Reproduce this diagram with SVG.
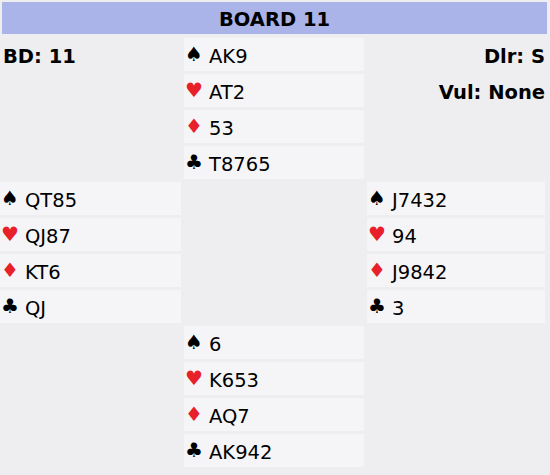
<svg xmlns="http://www.w3.org/2000/svg" width="550" height="475" viewBox="0 0 550 475">
<style>
.bg{fill:#eeedef}
.hdr{fill:#aab4e8}
.cell{fill:#f5f5f7}
.t{font-family:"DejaVu Sans",Verdana,sans-serif;font-size:19.5px;fill:#000}
.b{font-weight:bold}
.s{font-family:"DejaVu Sans",sans-serif;font-size:20px;fill:#000}
.r{fill:#e8202a}
</style>
<rect class="bg" x="0" y="0" width="550" height="475"/>
<g id="header">
<rect class="hdr" x="2" y="2" width="545" height="32"/>
<text class="t b" x="274.5" y="26" text-anchor="middle">BOARD 11</text>
</g>
<g id="info">
<text class="t b" x="3" y="62.5">BD: 11</text>
<text class="t b" x="545" y="62.5" text-anchor="end">Dlr: S</text>
<text class="t b" x="545" y="98.5" text-anchor="end">Vul: None</text>
</g>
<g id="north">
<rect class="cell" x="184" y="38" width="180" height="33"/>
<rect class="cell" x="184" y="74" width="180" height="33"/>
<rect class="cell" x="184" y="110" width="180" height="33"/>
<rect class="cell" x="184" y="146" width="180" height="33"/>
<text class="s" x="185" y="61">♠</text><text class="t" x="209" y="62.5">AK9</text>
<text class="s r" x="185" y="97">♥</text><text class="t" x="209" y="98.5">AT2</text>
<text class="s r" x="185" y="133">♦</text><text class="t" x="209" y="134.5">53</text>
<text class="s" x="185" y="169">♣</text><text class="t" x="209" y="170.5">T8765</text>
</g>
<g id="west">
<rect class="cell" x="0" y="182" width="181" height="33"/>
<rect class="cell" x="0" y="218" width="181" height="33"/>
<rect class="cell" x="0" y="254" width="181" height="33"/>
<rect class="cell" x="0" y="290" width="181" height="33"/>
<text class="s" x="1" y="205">♠</text><text class="t" x="25" y="206.5">QT85</text>
<text class="s r" x="1" y="241">♥</text><text class="t" x="25" y="242.5">QJ87</text>
<text class="s r" x="1" y="277">♦</text><text class="t" x="25" y="278.5">KT6</text>
<text class="s" x="1" y="313">♣</text><text class="t" x="25" y="314.5">QJ</text>
</g>
<g id="east">
<rect class="cell" x="367" y="182" width="178" height="33"/>
<rect class="cell" x="367" y="218" width="178" height="33"/>
<rect class="cell" x="367" y="254" width="178" height="33"/>
<rect class="cell" x="367" y="290" width="178" height="33"/>
<text class="s" x="368" y="205">♠</text><text class="t" x="392" y="206.5">J7432</text>
<text class="s r" x="368" y="241">♥</text><text class="t" x="392" y="242.5">94</text>
<text class="s r" x="368" y="277">♦</text><text class="t" x="392" y="278.5">J9842</text>
<text class="s" x="368" y="313">♣</text><text class="t" x="392" y="314.5">3</text>
</g>
<g id="south">
<rect class="cell" x="184" y="326" width="180" height="33"/>
<rect class="cell" x="184" y="362" width="180" height="33"/>
<rect class="cell" x="184" y="398" width="180" height="33"/>
<rect class="cell" x="184" y="434" width="180" height="33"/>
<text class="s" x="185" y="349">♠</text><text class="t" x="209" y="350.5">6</text>
<text class="s r" x="185" y="385">♥</text><text class="t" x="209" y="386.5">K653</text>
<text class="s r" x="185" y="421">♦</text><text class="t" x="209" y="422.5">AQ7</text>
<text class="s" x="185" y="457">♣</text><text class="t" x="209" y="458.5">AK942</text>
</g>
<g id="connectors"></g>
</svg>
